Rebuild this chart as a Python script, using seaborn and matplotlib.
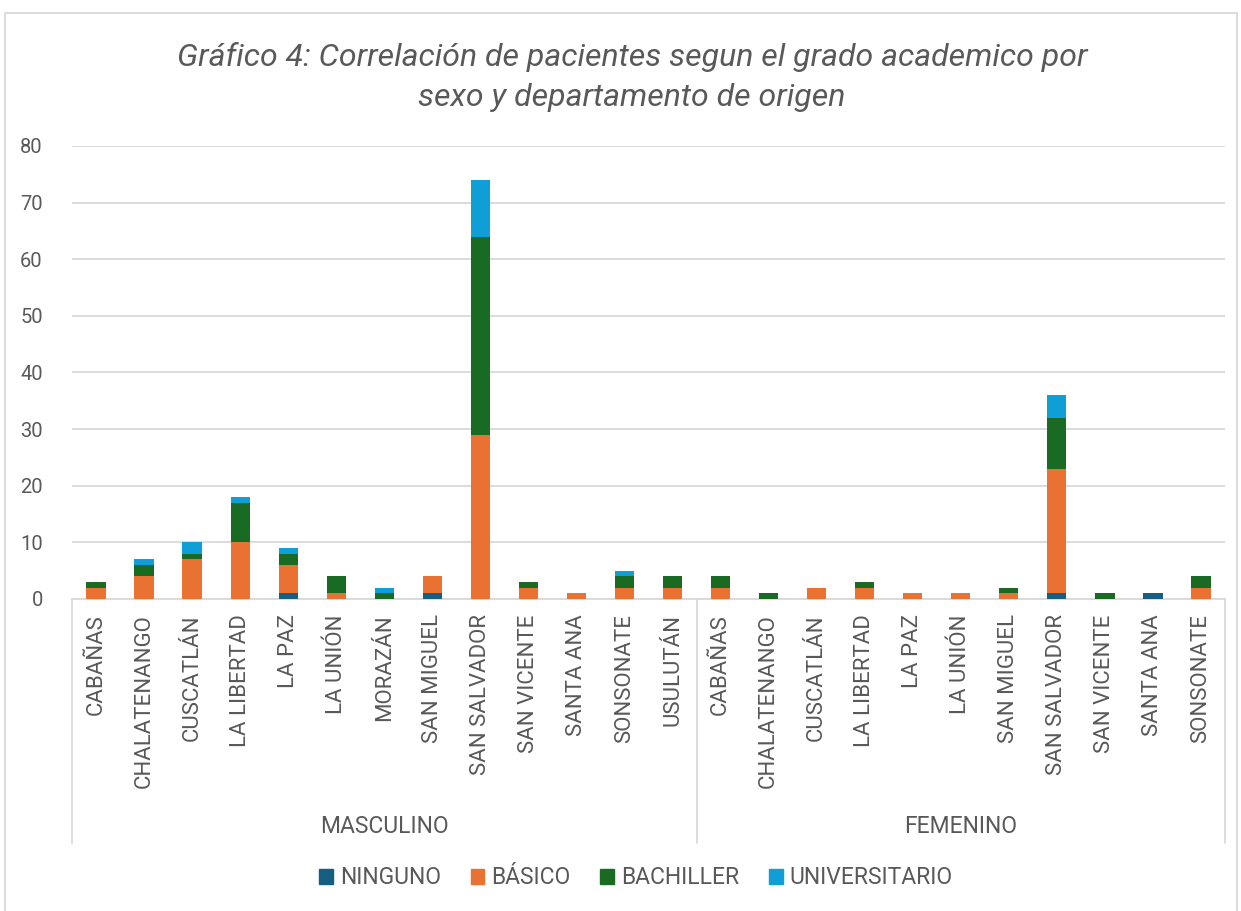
import numpy as np
import pandas as pd
import matplotlib
matplotlib.use("Agg")
import matplotlib.pyplot as plt
import matplotlib.patches as mpatches
import seaborn as sns

# Data
departamentos_m = ["CABAÑAS", "CHALATENANGO", "CUSCATLÁN", "LA LIBERTAD", "LA PAZ", "LA UNIÓN",
                   "MORAZÁN", "SAN MIGUEL", "SAN SALVADOR", "SAN VICENTE", "SANTA ANA",
                   "SONSONATE", "USULUTÁN"]
departamentos_f = ["CABAÑAS", "CHALATENANGO", "CUSCATLÁN", "LA LIBERTAD", "LA PAZ", "LA UNIÓN",
                   "SAN MIGUEL", "SAN SALVADOR", "SAN VICENTE", "SANTA ANA", "SONSONATE"]
sexos = ["MASCULINO", "FEMENINO"]
niveles = ["NINGUNO", "BÁSICO", "BACHILLER", "UNIVERSITARIO"]

ninguno_m = [0, 0, 0, 0, 1, 0, 0, 1, 0, 0, 0, 0, 0]
basico_m = [2, 4, 7, 10, 5, 1, 0, 3, 29, 2, 1, 2, 2]
bachiller_m = [1, 2, 1, 7, 2, 3, 1, 0, 35, 1, 0, 2, 2]
universitario_m = [0, 1, 2, 1, 1, 0, 1, 0, 10, 0, 0, 1, 0]

ninguno_f = [0, 0, 0, 0, 0, 0, 0, 1, 0, 1, 0]
basico_f = [2, 0, 2, 2, 1, 1, 1, 22, 0, 0, 2]
bachiller_f = [2, 1, 0, 1, 0, 0, 1, 9, 1, 0, 2]
universitario_f = [0, 0, 0, 0, 0, 0, 0, 4, 0, 0, 0]

colores = ["#156082", "#E97132", "#196B24", "#0F9ED5"]
TEXT = "#595959"
GRID = "#D9D9D9"

# Build table
labels = departamentos_m + departamentos_f
n = len(labels)
df = pd.DataFrame({
    "pos": np.arange(n),
    "NINGUNO": ninguno_m + ninguno_f,
    "BÁSICO": basico_m + basico_f,
    "BACHILLER": bachiller_m + bachiller_f,
    "UNIVERSITARIO": universitario_m + universitario_f,
})
cum = df[niveles].cumsum(axis=1)

sns.set_style("white")
plt.rcParams["font.family"] = ["Roboto", "DejaVu Sans"]

W, H = 1241, 911
fig = plt.figure(figsize=(W / 100, H / 100), dpi=100)
ax = fig.add_axes([72 / W, 1 - 599 / H, (1225 - 72) / W, (599 - 146) / H])

# stacked bars: draw tallest cumulative first
for nivel, col in reversed(list(zip(niveles, colores))):
    sns.barplot(x=df["pos"], y=cum[nivel], color=col, width=0.4, ax=ax,
                saturation=1, linewidth=0, zorder=3)

ax.set_ylim(0, 80)
ax.set_xlim(-0.5, n - 0.5)
ax.set_yticks(np.arange(0, 81, 10))
ax.yaxis.grid(True, color=GRID, linewidth=1.3, zorder=0)
ax.set_axisbelow(True)
for s in ["top", "right", "left"]:
    ax.spines[s].set_visible(False)
ax.spines["bottom"].set_color(GRID)
ax.spines["bottom"].set_linewidth(1.3)
ax.set_xlabel("")
ax.set_ylabel("")
ax.tick_params(axis="y", length=0, pad=21, labelsize=14.5, labelcolor=TEXT)
ax.set_xticks(np.arange(n))
ax.set_xticklabels(labels, rotation=90, fontsize=16, color=TEXT)
ax.tick_params(axis="x", length=0, pad=11)
for t in ax.get_yticklabels():
    t.set_horizontalalignment("right")

# group separators and labels
tr = ax.get_xaxis_transform()
n_m = len(departamentos_m)
for xs in [-0.5, n_m - 0.5, n - 0.5]:
    ax.plot([xs, xs], [0, -0.539], transform=tr, color=GRID, lw=1.3, clip_on=False)
ax.text((n_m - 1) / 2, -0.503, sexos[0], transform=tr, ha="center", va="center",
        fontsize=16.5, color=TEXT)
ax.text(n_m + (len(departamentos_f) - 1) / 2, -0.503, sexos[1], transform=tr,
        ha="center", va="center", fontsize=16.5, color=TEXT)

# title
fig.text(632 / W, 1 - 77 / H,
         "Gráfico 4: Correlación de pacientes segun el grado academico por\nsexo y departamento de origen",
         ha="center", va="center", fontsize=23, style="italic", color=TEXT, linespacing=1.45)

# legend
handles = [mpatches.Patch(color=c, label=l) for l, c in zip(niveles, colores)]
fig.legend(handles=handles, loc="center", bbox_to_anchor=(636 / W, 1 - 878 / H), ncol=4,
           frameon=False, fontsize=16.5, labelcolor=TEXT, handlelength=0.6, handleheight=0.6,
           handletextpad=0.3, columnspacing=1.3)

# outer chart border
fig.patches.append(mpatches.Rectangle((5 / W, -0.01), (1237 - 5) / W, 1.01 - 13 / H,
                                      transform=fig.transFigure, fill=False,
                                      edgecolor=GRID, linewidth=1.3))

fig.savefig("out.png", dpi=100)
